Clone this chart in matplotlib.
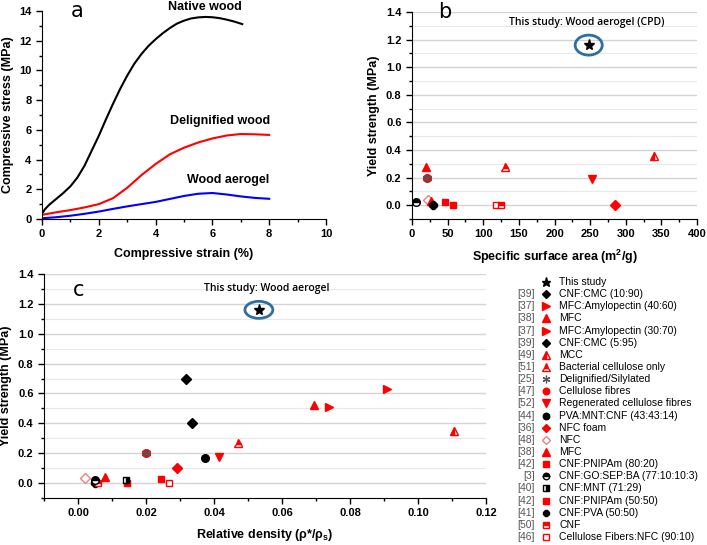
import numpy as np
import matplotlib.pyplot as plt
from matplotlib.patches import Ellipse
from matplotlib.ticker import MultipleLocator, FormatStrFormatter

plt.rcParams['font.family'] = ['Liberation Sans', 'DejaVu Sans']

# panel a: compressive stress-strain curves
strain_native = [0, 0.1, 0.25, 0.5, 0.75, 1.0, 1.25, 1.5, 1.75, 2.0, 2.25, 2.5, 2.75, 3.0, 3.25,
                 3.5, 3.75, 4.0, 4.25, 4.5, 4.75, 5.0, 5.25, 5.5, 5.75, 6.0, 6.25, 6.5, 6.75, 7.05]
stress_native = [0.35, 0.65, 0.95, 1.35, 1.75, 2.2, 2.8, 3.6, 4.6, 5.6, 6.7, 7.75, 8.75, 9.65, 10.45,
                 11.1, 11.65, 12.1, 12.5, 12.85, 13.15, 13.35, 13.5, 13.57, 13.6, 13.58, 13.52, 13.42, 13.3, 13.12]
strain_delig = [0, 0.5, 1.0, 1.5, 2.0, 2.5, 3.0, 3.5, 4.0, 4.5, 5.0, 5.5, 6.0, 6.5, 7.0, 7.5, 8.0]
stress_delig = [0.28, 0.45, 0.6, 0.78, 1.0, 1.4, 2.1, 2.95, 3.7, 4.35, 4.8, 5.15, 5.42, 5.62, 5.72, 5.7, 5.66]
strain_aero = [0, 0.5, 1.0, 1.5, 2.0, 2.5, 3.0, 3.5, 4.0, 4.5, 5.0, 5.5, 6.0, 6.5, 7.0, 7.5, 8.0]
stress_aero = [0.05, 0.12, 0.22, 0.35, 0.5, 0.68, 0.85, 1.0, 1.15, 1.35, 1.55, 1.7, 1.75, 1.65, 1.52, 1.42, 1.36]

# legend entries (reference number, material)
legend_refs = ['', '[39]', '[37]', '[38]', '[37]', '[39]', '[49]', '[51]', '[25]', '[47]', '[52]',
               '[44]', '[36]', '[48]', '[38]', '[42]', '[3]', '[40]', '[42]', '[41]', '[50]', '[46]']
legend_labels = ['This study', 'CNF:CMC (10:90)', 'MFC:Amylopectin (40:60)', 'MFC',
                 'MFC:Amylopectin (30:70)', 'CNF:CMC (5:95)', 'MCC', 'Bacterial cellulose only',
                 'Delignified/Silylated', 'Cellulose fibres', 'Regenerated cellulose fibres',
                 'PVA:MNT:CNF (43:43:14)', 'NFC foam', 'NFC', 'MFC', 'CNF:PNIPAm (80:20)',
                 'CNF:GO:SEP:BA (77:10:10:3)', 'CNF:MNT (71:29)', 'CNF:PNIPAm (50:50)',
                 'CNF:PVA (50:50)', 'CNF', 'Cellulose Fibers:NFC (90:10)']

# panel b: yield strength vs specific surface area (index into legend lists)
b_entry = [3, 9, 8, 16, 13, 14, 19, 15, 18, 21, 20, 7, 10, 12, 6, 0]
b_area = [19, 21, 21, 6, 22, 26, 29, 46, 57, 118, 125, 131, 252, 285, 340, 248]
b_yield = [0.28, 0.2, 0.2, 0.02, 0.036, 0.03, 0.0, 0.022, 0.002, 0.0, 0.0, 0.28, 0.19, 0.0, 0.355, 1.16]

# panel c: yield strength vs relative density
c_entry = [1, 5, 9, 8, 11, 10, 7, 12, 15, 21, 13, 19, 16, 20, 3, 18, 17, 14, 4, 2, 6, 0]
c_density = [0.0319, 0.0335, 0.020, 0.020, 0.0373, 0.0416, 0.047, 0.0291, 0.0245, 0.0269, 0.0020,
             0.0050, 0.0050, 0.0058, 0.0080, 0.0144, 0.0141, 0.0693, 0.0738, 0.0908, 0.1107, 0.0532]
c_yield = [0.70, 0.40, 0.2, 0.2, 0.17, 0.175, 0.27, 0.098, 0.025, 0.0, 0.036,
           0.0, 0.02, 0.0, 0.038, 0.0, 0.02, 0.52, 0.51, 0.63, 0.35, 1.16]

RED = '#ff0000'
styles = [
    dict(marker='*', color='black', ms=8),
    dict(marker='D', color='black', ms=5),
    dict(marker='>', color=RED, ms=6),
    dict(marker='^', color=RED, ms=6),
    dict(marker='>', color=RED, ms=6),
    dict(marker='D', color='black', ms=5),
    dict(marker='^', color=RED, mfc=RED, mfcalt='white', fillstyle='left', ms=6),
    dict(marker='^', color=RED, mfc=RED, mfcalt='white', fillstyle='top', ms=6),
    dict(marker=(6, 2, 0), color='#555555', ms=6.5, mew=0.9, zorder=5),
    dict(marker='o', color=RED, ms=5.5),
    dict(marker='v', color=RED, ms=6),
    dict(marker='o', color='black', ms=5.5),
    dict(marker='D', color=RED, ms=5),
    dict(marker='D', color='#f08080', mfc='white', ms=5),
    dict(marker='^', color=RED, ms=6),
    dict(marker='s', color=RED, ms=5),
    dict(marker='o', color='black', mfc='black', mfcalt='white', fillstyle='top', ms=5.5, zorder=4),
    dict(marker='s', color='black', mfc='black', mfcalt='white', fillstyle='right', ms=5, zorder=4),
    dict(marker='s', color=RED, ms=5),
    dict(marker='8', color='black', ms=5.5),
    dict(marker='s', color=RED, mfc=RED, mfcalt='white', fillstyle='top', ms=5),
    dict(marker='s', color=RED, mfc='white', ms=5),
]

W, H = 707, 545
fig = plt.figure(figsize=(W / 100, H / 100), dpi=100)


def style_axes(ax):
    ax.spines['top'].set_visible(False)
    ax.spines['right'].set_visible(False)
    ax.tick_params(which='major', direction='out', length=4, width=1, labelsize=8)
    ax.tick_params(which='minor', direction='out', length=2.5, width=1)
    for lab in ax.get_xticklabels() + ax.get_yticklabels():
        lab.set_fontweight('bold')


def scatter_panel(ax, entries, xs, ys):
    for i, x, y in zip(entries, xs, ys):
        ax.plot([x], [y], linestyle='none', **styles[i])


def yield_axes(ax):
    ax.set_ylim(-0.1, 1.4)
    ax.yaxis.set_major_locator(MultipleLocator(0.2))
    ax.yaxis.set_minor_locator(MultipleLocator(0.1))
    ax.yaxis.set_major_formatter(FormatStrFormatter('%.1f'))
    ax.yaxis.grid(True, which='major', color='#d4d4d4', lw=1)
    ax.yaxis.grid(True, which='minor', color='#e8e8e8', lw=0.8)
    ax.set_axisbelow(True)
    ax.set_ylabel('Yield strength (MPa)', fontsize=9, fontweight='bold')


# ---- panel a
ax_a = fig.add_axes([42 / W, 1 - 219 / H, 284 / W, 208 / H])
ax_a.plot(strain_native, stress_native, color='black', lw=1.5)
ax_a.plot(strain_delig, stress_delig, color=RED, lw=1.5)
ax_a.plot(strain_aero, stress_aero, color='#0000ff', lw=1.5)
ax_a.set_xlim(0, 10)
ax_a.set_ylim(0, 14)
ax_a.xaxis.set_major_locator(MultipleLocator(2))
ax_a.xaxis.set_minor_locator(MultipleLocator(1))
ax_a.yaxis.set_major_locator(MultipleLocator(2))
ax_a.yaxis.set_minor_locator(MultipleLocator(1))
ax_a.set_xlabel('Compressive strain (%)', fontsize=9, fontweight='bold', labelpad=6)
ax_a.set_ylabel('Compressive stress (MPa)', fontsize=9, fontweight='bold')
ax_a.text(5.74, 14.27, 'Native wood', ha='center', va='center', fontsize=9, fontweight='bold', clip_on=False)
ax_a.text(6.27, 6.6, 'Delignified wood', ha='center', va='center', fontsize=9, fontweight='bold')
ax_a.text(6.55, 2.62, 'Wood aerogel', ha='center', va='center', fontsize=9, fontweight='bold')
ax_a.text(0.1, 1.0, 'a', transform=ax_a.transAxes, fontsize=15, va='center', family='DejaVu Sans')
style_axes(ax_a)

# ---- panel b
ax_b = fig.add_axes([412 / W, 1 - 219 / H, 285 / W, 207 / H])
scatter_panel(ax_b, b_entry, b_area, b_yield)
ax_b.add_patch(Ellipse((248, 1.16), 38, 0.145, fill=False, edgecolor='#2f6ea5', lw=2))
ax_b.set_xlim(0, 400)
ax_b.xaxis.set_major_locator(MultipleLocator(50))
ax_b.xaxis.set_minor_locator(MultipleLocator(25))
yield_axes(ax_b)
ax_b.set_xlabel('Specific surface area (m$^\\mathregular{2}$/g)', fontsize=9, fontweight='bold', labelpad=6)
ax_b.text(245, 1.327, 'This study: Wood aerogel (CPD)', ha='center', va='center', fontsize=7.5,
          fontweight='semibold', family=['Open Sans', 'DejaVu Sans'])
ax_b.text(0.09, 1.0, 'b', transform=ax_b.transAxes, fontsize=15, va='center', family='DejaVu Sans')
style_axes(ax_b)

# ---- panel c
ax_c = fig.add_axes([44 / W, 1 - 498 / H, 442 / W, 224 / H])
scatter_panel(ax_c, c_entry, c_density, c_yield)
ax_c.add_patch(Ellipse((0.0532, 1.16), 0.0082, 0.114, fill=False, edgecolor='#2f6ea5', lw=2))
ax_c.set_xlim(-0.01, 0.12)
ax_c.set_xticks(np.arange(0, 0.121, 0.02))
ax_c.xaxis.set_minor_locator(MultipleLocator(0.01))
ax_c.xaxis.set_major_formatter(FormatStrFormatter('%.2f'))
yield_axes(ax_c)
ax_c.set_xlabel('Relative density (ρ*/ρ$_\\mathregular{s}$)', fontsize=9, fontweight='bold', labelpad=6)
ax_c.text(0.0556, 1.30, 'This study: Wood aerogel', ha='center', va='center', fontsize=7.5,
          fontweight='semibold', family=['Open Sans', 'DejaVu Sans'])
ax_c.text(0.065, 0.93, 'c', transform=ax_c.transAxes, fontsize=15, va='center', family='DejaVu Sans')
style_axes(ax_c)

# ---- legend
n = len(legend_labels)
lax = fig.add_axes([500 / W, 2 / H, 207 / W, 267 / H])
lax.set_xlim(500, 707)
lax.set_ylim(n - 0.5, -0.5)
lax.axis('off')
for row in range(n):
    st = dict(styles[row])
    st['ms'] = st['ms'] * 0.85
    lax.text(535, row, legend_refs[row], ha='right', va='center', fontsize=7.5, color='#555555')
    lax.plot([546], [row], linestyle='none', **st)
    lax.text(559, row, legend_labels[row], ha='left', va='center', fontsize=7.5)

fig.savefig('out.png', dpi=100)
